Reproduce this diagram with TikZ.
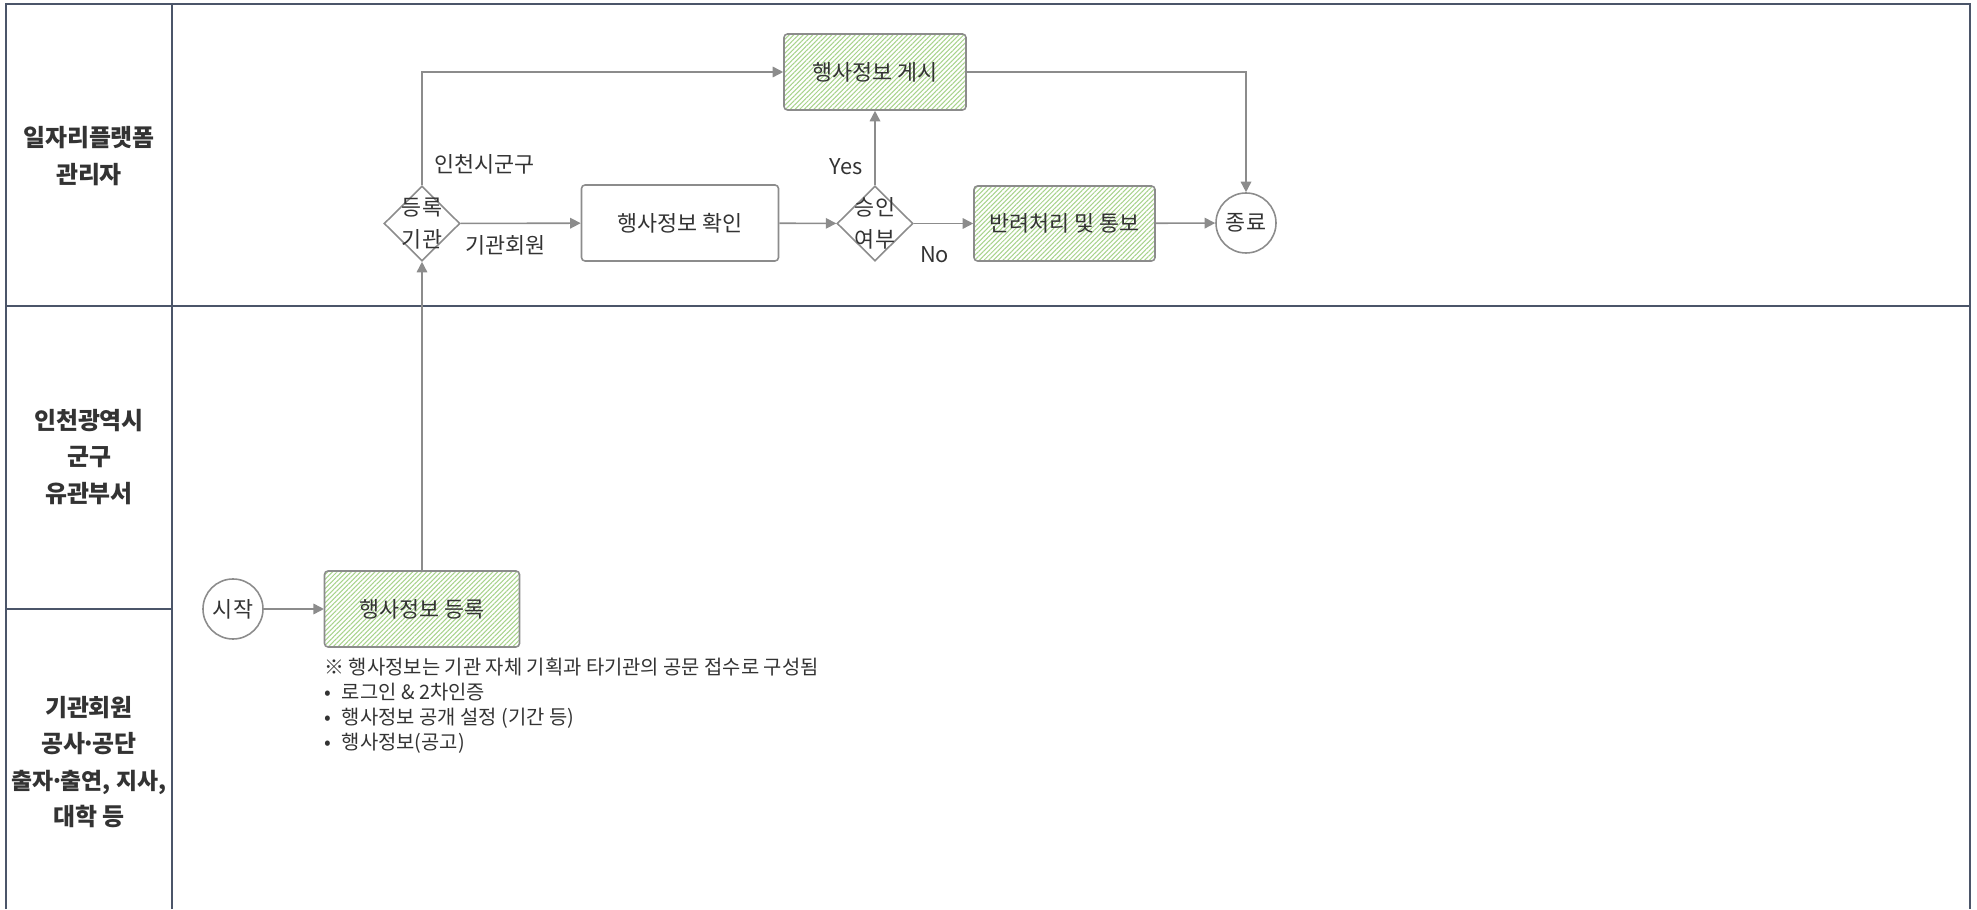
\documentclass[tikz,border=0pt]{standalone}
\usepackage{fontspec}
\setmainfont{Noto Sans CJK KR}
\usetikzlibrary{arrows.meta, shapes.geometric, patterns.meta}

\definecolor{laneline}{HTML}{4B5569}
\definecolor{flowgray}{HTML}{8C8C8C}
\definecolor{hatchgreen}{HTML}{A8D38C}
\definecolor{txtgray}{HTML}{333333}

\newcommand{\boxfont}{\fontsize{6.2pt}{9.2pt}\selectfont}
\newcommand{\lanefont}{\fontsize{6.8pt}{10.4pt}\selectfont\bfseries}
\newcommand{\notefont}{\fontsize{5.65pt}{7.1pt}\selectfont}
\newcommand{\tightdot}{\hspace{-0.15em}·\hspace{-0.15em}}

\begin{document}
\begin{tikzpicture}[>={Triangle[length=3pt,width=3pt]},
		lane/.style={laneline, line width=0.55pt},
		flow/.style={->, flowgray, line width=0.45pt},
		stepbox/.style={draw=flowgray, line width=0.45pt, rounded corners=1pt, minimum width=1.96cm, minimum height=0.76cm, font=\boxfont, text=txtgray},
		greenbox/.style={stepbox, pattern={Lines[angle=45, distance=0.95pt, line width=0.3pt]}, pattern color=hatchgreen},
		decision/.style={diamond, draw=flowgray, line width=0.45pt, minimum width=0.76cm, minimum height=0.75cm, inner sep=0pt},
		terminal/.style={circle, draw=flowgray, line width=0.45pt, minimum size=0.6cm, inner sep=0pt, font=\boxfont, text=txtgray},
		lanetitle/.style={font=\lanefont, align=center, text=txtgray},
		flowlabel/.style={font=\boxfont, text=txtgray}]
	
	\useasboundingbox (0,0) rectangle (19.77,9.09);
	
	% --- 1. 레인 ---
	\draw[lane] (0.06,0) -- (0.06,9.05) -- (19.70,9.05) -- (19.70,0);
	\draw[lane] (1.72,0) -- (1.72,9.05);
	\draw[lane] (0.06,6.03) -- (19.70,6.03);
	\draw[lane] (0.06,3.00) -- (1.72,3.00); % 왼쪽 칸만 나눔
	
	\node[lanetitle] (admin) at (0.89,7.53) {일자리플랫폼\\관리자};
	\node[lanetitle] (city) at (0.89,4.52) {인천광역시\\군구\\유관부서};
	\node[lanetitle] (member) at (0.89,1.47) {기관회원\\공사\tightdot 공단\\{\fontsize{6.5pt}{10.4pt}\selectfont 출자\tightdot 출연, 지사,}\\대학 등};
	
	% --- 2. 단계 ---
	\node[terminal] (start) at (2.33,3.00) {시작};
	\node[greenbox, minimum width=1.95cm] (reg) at (4.22,3.00) {행사정보 등록};
	\node[decision, label={[flowlabel, align=center]center:등록\\기관}] (who) at (4.22,6.855) {};
	\node[stepbox, minimum width=1.97cm] (check) at (6.80,6.86) {행사정보 확인};
	\node[decision, label={[flowlabel, align=center]center:승인\\여부}] (ok) at (8.75,6.855) {};
	\node[greenbox, minimum width=1.82cm] (post) at (8.75,8.37) {행사정보 게시};
	\node[greenbox, minimum width=1.81cm, minimum height=0.75cm] (reject) at (10.645,6.855) {반려처리 및 통보};
	\node[terminal] (finish) at (12.46,6.86) {종료};
	
	% 등록 안내 문구
	\node[font=\notefont, text=txtgray, align=left, anchor=north west, inner sep=0pt] (note)
		at ([yshift=-0.1cm]reg.south west)
		{※ 행사정보는 기관 자체 기획과 타기관의 공문 접수로 구성됨\\
		 •\hspace{0.3em} 로그인 \& 2차인증\\
		 •\hspace{0.3em} 행사정보 공개 설정 (기간 등)\\
		 •\hspace{0.3em} 행사정보(공고)};
	
	% --- 3. 흐름 ---
	\draw[flow] (start) -- (reg);
	\draw[flow] (reg) -- (who);
	\draw[flow] (who) -- (check) node[flowlabel, pos=0.37, below] {기관회원};
	\draw[flow] (who) |- (post) node[flowlabel, pos=0.09, right] {인천시군구};
	\draw[flow] (check) -- (ok);
	\draw[flow] (ok) -- (post) node[flowlabel, pos=0.25, left] {Yes};
	\draw[flow] (ok) -- (reject) node[flowlabel, pos=0.35, below=3pt] {No};
	\draw[flow] (reject) -- (finish);
	\draw[flow] (post) -| (finish);
	
\end{tikzpicture}
\end{document}
